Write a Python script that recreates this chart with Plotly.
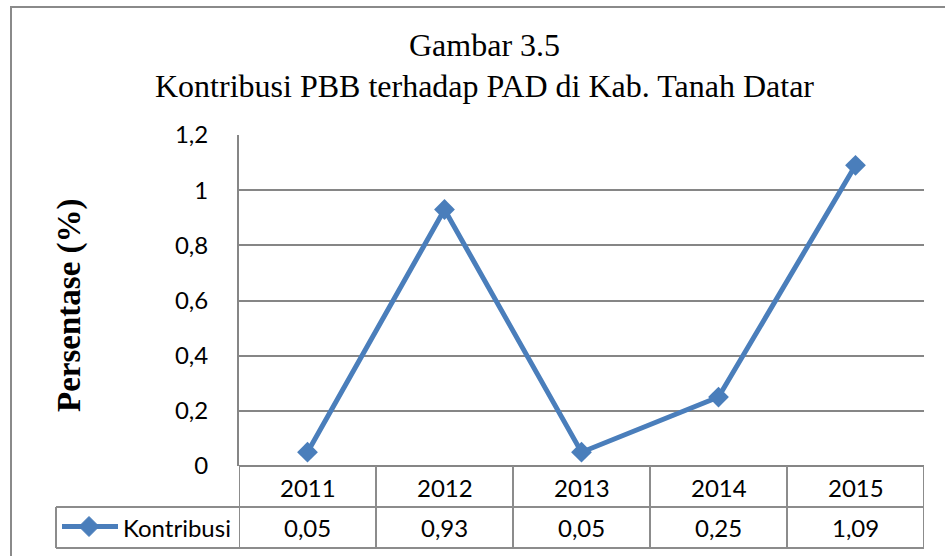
import plotly.graph_objects as go

years = ["2011", "2012", "2013", "2014", "2015"]
kontribusi = [0.05, 0.93, 0.05, 0.25, 1.09]
kontribusi_text = ["0,05", "0,93", "0,05", "0,25", "1,09"]
series_name = "Kontribusi"
y_tickvals = [0, 0.2, 0.4, 0.6, 0.8, 1.0, 1.2]
y_ticktext = ["0", "0,2", "0,4", "0,6", "0,8", "1", "1,2"]
title_line1 = "Gambar 3.5"
title_line2 = "Kontribusi PBB terhadap PAD di Kab. Tanah Datar"
y_title = "Persentase (%)"

W, H = 945, 556
L, R, T, B = 239, 21, 135, 90
PW, PH = W - L - R, H - T - B

def px(xp):
    return (xp - L) / PW

def py(yp):
    return (H - B - yp) / PH

BLUE = "#4A7EBB"
GRID = "#868686"
SANS = "Lato, 'Open Sans', sans-serif"
SERIF = "'Liberation Serif', 'Times New Roman', serif"

fig = go.Figure()
fig.add_trace(go.Scatter(
    x=list(range(len(years))), y=kontribusi, mode="lines+markers", name=series_name,
    line=dict(color=BLUE, width=5),
    marker=dict(symbol="diamond", size=16, color=BLUE),
    showlegend=False, cliponaxis=False,
))

shapes = []
line_style = dict(color="#8c8c8c", width=2)
row1 = py(507)
row2 = py(548)
left_cell = px(56)
# horizontal table lines
for yv in (row1, row2):
    shapes.append(dict(type="line", xref="paper", yref="paper", x0=left_cell, x1=1, y0=yv, y1=yv, line=line_style))
# vertical category boundaries
for i in range(len(years) + 1):
    shapes.append(dict(type="line", xref="x", yref="paper", x0=i - 0.5, x1=i - 0.5, y0=0, y1=row2, line=line_style))
shapes.append(dict(type="line", xref="paper", yref="paper", x0=left_cell, x1=left_cell, y0=row1, y1=row2, line=line_style))
# legend key
ly = py(526.5)
shapes.append(dict(type="line", xref="paper", yref="paper", x0=px(62), x1=px(118), y0=ly, y1=ly,
                   line=dict(color=BLUE, width=5)))
shapes.append(dict(type="path", xref="paper", yref="paper", xsizemode="pixel", ysizemode="pixel",
                   xanchor=px(89), yanchor=ly, path="M -10,0 L 0,10 L 10,0 L 0,-10 Z",
                   fillcolor=BLUE, line=dict(color=BLUE, width=1)))
# outer border
shapes.append(dict(type="rect", xref="paper", yref="paper", x0=px(11), x1=px(960), y0=py(570), y1=py(7),
                   line=dict(color="#8a8a8a", width=2), fillcolor="rgba(0,0,0,0)"))

annotations = []
for i, (yr, val) in enumerate(zip(years, kontribusi_text)):
    annotations.append(dict(x=i, y=py(487), xref="x", yref="paper", text=yr, showarrow=False,
                            font=dict(family=SANS, size=24, color="#000"), xanchor="center", yanchor="middle"))
    annotations.append(dict(x=i, y=py(527), xref="x", yref="paper", text=val, showarrow=False,
                            font=dict(family=SANS, size=24, color="#000"), xanchor="center", yanchor="middle"))
annotations.append(dict(x=px(121), y=py(527), xref="paper", yref="paper", text=series_name, showarrow=False,
                        font=dict(family=SANS, size=24, color="#000"), xanchor="left", yanchor="middle"))
annotations.append(dict(x=px(484), y=py(45), xref="paper", yref="paper", text=title_line1, showarrow=False,
                        font=dict(family=SERIF, size=32, color="#000"), xanchor="center", yanchor="middle"))
annotations.append(dict(x=px(484), y=py(86), xref="paper", yref="paper", text=title_line2, showarrow=False,
                        font=dict(family=SERIF, size=32, color="#000"), xanchor="center", yanchor="middle"))
annotations.append(dict(x=px(69), y=py(305), xref="paper", yref="paper", text="<b>" + y_title + "</b>",
                        showarrow=False, textangle=-90,
                        font=dict(family=SERIF, size=33, color="#000"), xanchor="center", yanchor="middle"))

fig.update_layout(
    width=W, height=H, margin=dict(l=L, r=R, t=T, b=B),
    paper_bgcolor="white", plot_bgcolor="white",
    shapes=shapes, annotations=annotations,
    xaxis=dict(range=[-0.5, len(years) - 0.5], showticklabels=False, showgrid=False, zeroline=False,
               showline=False, ticks=""),
    yaxis=dict(range=[0, 1.2], tickvals=y_tickvals, ticktext=y_ticktext, showgrid=True,
               gridcolor=GRID, gridwidth=2, zeroline=True, zerolinecolor=GRID, zerolinewidth=2,
               showline=True, linecolor=GRID, linewidth=2, ticks="", ticklabelstandoff=24,
               tickfont=dict(family=SANS, size=24, color="#000")),
)

fig.write_html("out.html", config={"displayModeBar": False},
               post_script="document.body.style.margin='0';")
